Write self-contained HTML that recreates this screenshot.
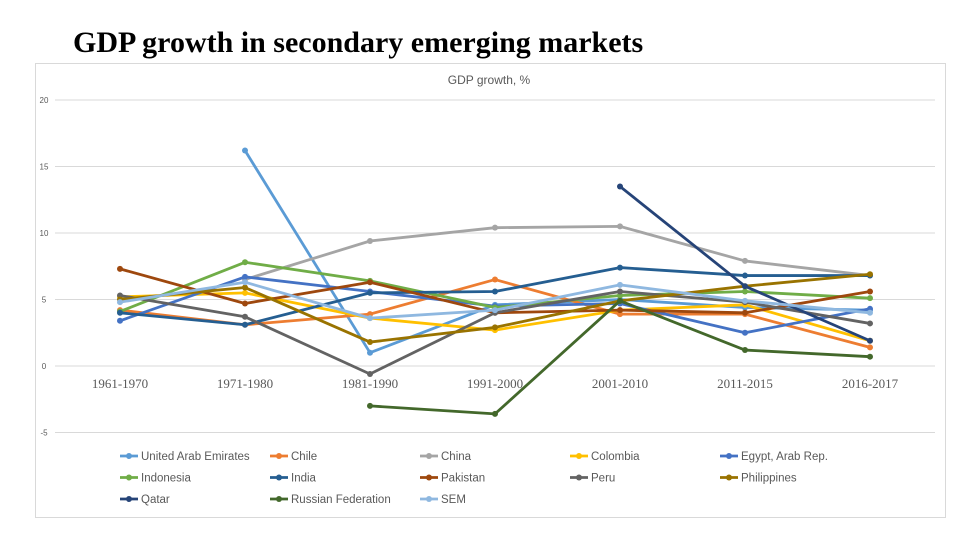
<!DOCTYPE html>
<html><head><meta charset="utf-8"><style>
body{margin:0;width:960px;height:540px;background:#fff;overflow:hidden;font-family:"Liberation Sans",sans-serif}
#title{position:absolute;left:73px;top:26px;font-family:"Liberation Serif",serif;font-size:30px;font-weight:bold;color:#000;white-space:nowrap}
svg{position:absolute;left:0;top:0}
</style></head><body>
<svg id="chart" width="960" height="540"></svg>
<div id="title">GDP growth in secondary emerging markets</div>
<script>
const categories=["1961-1970","1971-1980","1981-1990","1991-2000","2001-2010","2011-2015","2016-2017"];
const yTicks=[20,15,10,5,0,-5];
const seriesNames=["United Arab Emirates","Chile","China","Colombia","Egypt, Arab Rep.","Indonesia","India","Pakistan","Peru","Philippines","Qatar","Russian Federation","SEM"];
const seriesColors=["#5B9BD5","#ED7D31","#A5A5A5","#FFC000","#4472C4","#70AD47","#255E91","#9E480E","#636363","#997300","#264478","#43682B","#8FB8E0"];
const uae=[null,16.2,1.0,4.6,5.0,4.4,4.2];
const chile=[4.2,3.1,3.9,6.5,3.9,3.9,1.4];
const china=[null,6.5,9.4,10.4,10.5,7.9,6.8];
const colombia=[5.2,5.5,3.6,2.7,4.2,4.6,1.9];
const egypt=[3.4,6.7,5.6,4.5,4.7,2.5,4.3];
const indonesia=[4.1,7.8,6.4,4.4,5.3,5.6,5.1];
const india=[4.0,3.1,5.5,5.6,7.4,6.8,6.8];
const pakistan=[7.3,4.7,6.3,4.0,4.2,4.0,5.6];
const peru=[5.3,3.7,-0.6,4.0,5.6,4.8,3.2];
const philippines=[5.0,5.9,1.8,2.9,4.9,6.0,6.9];
const qatar=[null,null,null,null,13.5,6.0,1.9];
const russia=[null,null,-3.0,-3.6,4.9,1.2,0.7];
const sem=[4.8,6.3,3.6,4.2,6.1,4.9,4.0];
const allSeries=[uae,chile,china,colombia,egypt,indonesia,india,pakistan,peru,philippines,qatar,russia,sem];

const NS="http://www.w3.org/2000/svg";
const svg=document.getElementById('chart');
function mk(t,a){const e=document.createElementNS(NS,t);for(const k in a)e.setAttribute(k,a[k]);svg.appendChild(e);return e;}
const x=i=>120+i*125;
const y=v=>366-v*13.3;

const box=mk('rect',{x:35.5,y:63.5,width:910,height:454,fill:'#fff',stroke:'#d9d9d9'});


const ct=mk('text',{x:489,y:84,'font-size':12,'text-anchor':'middle',fill:'#595959'});
ct.textContent='GDP growth, %';



yTicks.forEach(v=>{
 const g=mk('line',{x1:55,x2:935,y1:y(v),y2:y(v),stroke:'#d9d9d9','stroke-width':1});
 
 
 const t=mk('text',{x:44,y:y(v)+3,'font-size':8,'text-anchor':'middle',fill:'#595959'});
 t.textContent=v;
 
 
});
categories.forEach((c,i)=>{
 const t=mk('text',{x:x(i),y:388,'font-size':13,'text-anchor':'middle',fill:'#595959','font-family':'Liberation Serif, serif'});
 t.textContent=c;
 
 
});
allSeries.forEach((s,k)=>{
 const col=seriesColors[k];
 let d='',pen=false;
 s.forEach((v,i)=>{if(v==null){pen=false;return;}d+=(pen?'L':'M')+x(i)+' '+y(v)+' ';pen=true;});
 const p=mk('path',{d:d,fill:'none',stroke:col,'stroke-width':2.8,'stroke-linejoin':'round'});
 
 
 s.forEach((v,i)=>{if(v==null)return;
  const m=mk('circle',{cx:x(i),cy:y(v),r:3,fill:col});
  
  
 });
 const lx=120+(k%5)*150, ly=456+Math.floor(k/5)*21.5;
 const ll=mk('line',{x1:lx,x2:lx+18,y1:ly,y2:ly,stroke:col,'stroke-width':2.8});
 
 
 mk('circle',{cx:lx+9,cy:ly,r:3,fill:col});
 const lt=mk('text',{x:lx+21,y:ly+4,'font-size':11.5,fill:'#595959'});
 lt.textContent=seriesNames[k];
 
 
});
</script>
</body></html>
